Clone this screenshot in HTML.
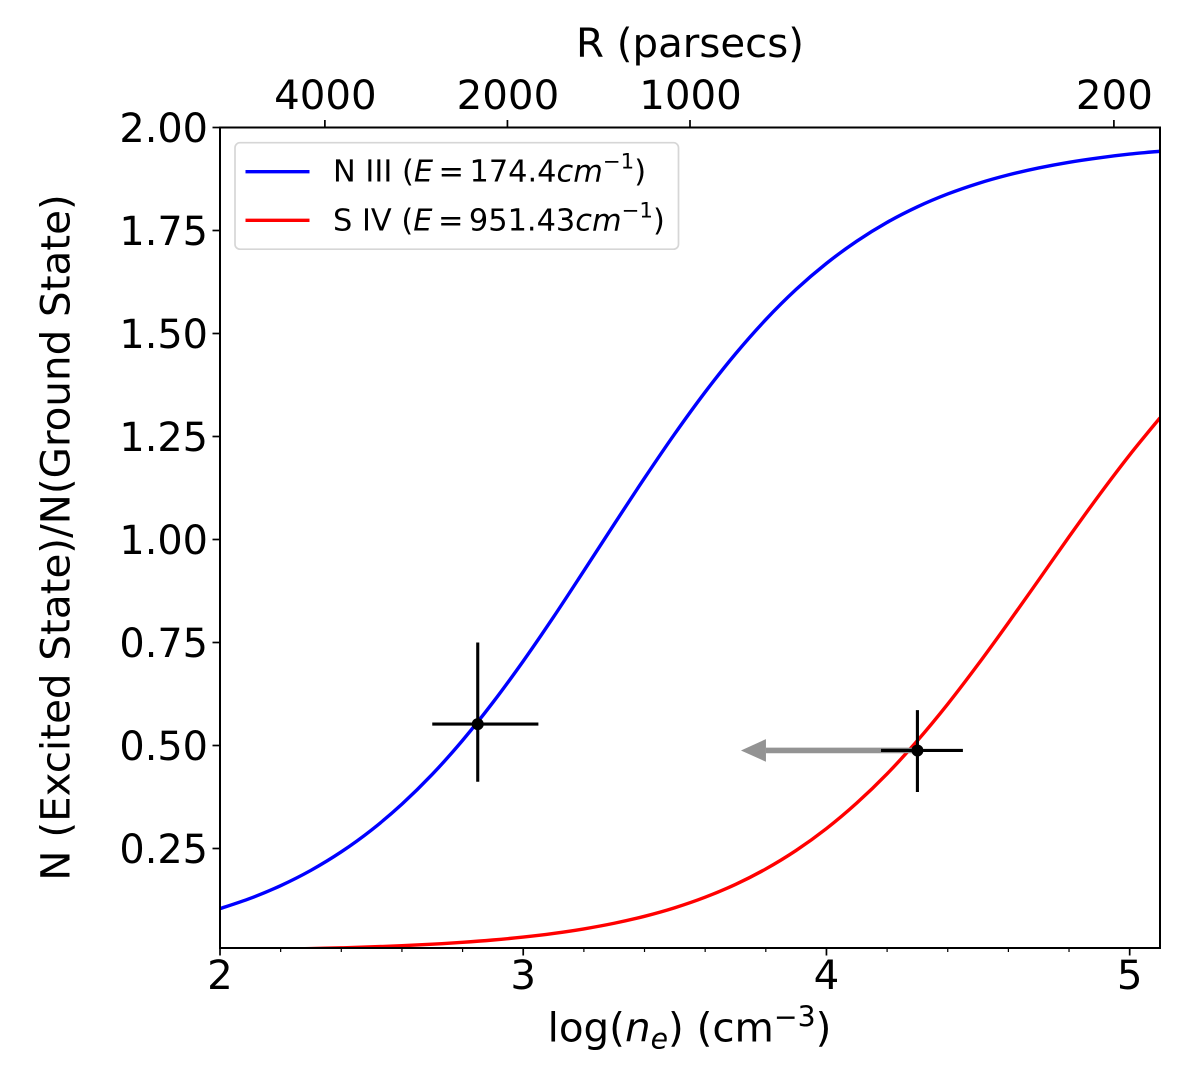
<!DOCTYPE html>
<html lang="en">
<head>
<meta charset="utf-8">
<title>Excited to ground state ratio</title>
<style>
html,body{margin:0;padding:0;background:#fff;}
svg{display:block;}
text{font-family:"DejaVu Sans","Liberation Sans",sans-serif;fill:#000;}
.i{font-style:italic;}
</style>
</head>
<body>
<svg id="chart" xmlns="http://www.w3.org/2000/svg" width="1200" height="1065" viewBox="0 0 1200 1065">
  <defs>
    <clipPath id="plot-clip"><rect x="220" y="127.5" width="940" height="820.5"/></clipPath>
  </defs>
  <rect x="220" y="127.5" width="940" height="820.5" fill="#fff"/>
  <g id="marks"></g>
  <g id="spines">
    <rect x="220" y="127.5" width="940" height="820.5" fill="none" stroke="#000" stroke-width="2"/>
  </g>
  <g id="ticks"></g>

  <text x="690" y="57" text-anchor="middle" font-size="40.3">R (parsecs)</text>
  <text x="689.5" y="1041.5" text-anchor="middle" font-size="40.4">log(<tspan class="i">n</tspan><tspan class="i" font-size="28.3" dy="7">e</tspan><tspan dy="-7">)</tspan> (cm<tspan font-size="28.3" dy="-15">−3</tspan><tspan dy="15">)</tspan></text>
  <text transform="translate(69.5,537.5) rotate(-90)" text-anchor="middle" font-size="40.4">N (Excited State)/N(Ground State)</text>

  <g>
    <rect x="235" y="142.7" width="443.5" height="106.5" rx="5" ry="5" fill="#fff" fill-opacity="0.8" stroke="#d6d6d6" stroke-width="1.7"/>
    <line x1="245.5" x2="309.5" y1="171.7" y2="171.7" stroke="#0000ff" stroke-width="3.3"/>
    <line x1="245.5" x2="309.5" y1="220.3" y2="220.3" stroke="#ff0000" stroke-width="3.3"/>
    <text x="333" y="181.5" font-size="30.4">N III (<tspan class="i">E</tspan><tspan dx="5.5">=</tspan><tspan dx="5.5">174.4</tspan><tspan class="i">cm</tspan><tspan font-size="21.3" dy="-13">−1</tspan><tspan dy="13">)</tspan></text>
    <text x="333" y="230.5" font-size="30.4">S IV (<tspan class="i">E</tspan><tspan dx="5.5">=</tspan><tspan dx="5.5">951.43</tspan><tspan class="i">cm</tspan><tspan font-size="21.3" dy="-13">−1</tspan><tspan dy="13">)</tspan></text>
  </g>
</svg>
<script>
// ---- chart data ----
const logDensity = [2.0,2.1,2.2,2.3,2.4,2.5,2.6,2.7,2.8,2.9,3.0,3.1,3.2,3.3,3.4,3.5,3.6,3.7,3.8,3.9,4.0,4.1,4.2,4.3,4.4,4.5,4.6,4.7,4.8,4.9,5.0,5.1];
const nIIIRatio = [0.1040,0.1291,0.1598,0.1971,0.2419,0.2951,0.3577,0.4300,0.5125,0.6045,0.7049,0.8120,0.9240,1.0372,1.1490,1.2568,1.3579,1.4506,1.5338,1.6070,1.6702,1.7241,1.7697,1.8075,1.8387,1.8642,1.8850,1.9019,1.9156,1.9265,1.9354,1.9424];
const sIVRatio = [0.00356,0.00448,0.00564,0.00709,0.00893,0.01121,0.01409,0.01770,0.02224,0.02791,0.0350,0.04386,0.05485,0.06852,0.08544,0.10625,0.1318,0.1628,0.2004,0.2453,0.2984,0.3604,0.4313,0.5118,0.6006,0.6968,0.7979,0.9019,1.0066,1.1084,1.2053,1.2954];
const pointNames = ['n-iii','s-iv'];
const pointX = [2.85,4.30];
const pointY = [0.552,0.488];
const pointXLow = [2.70,4.18];
const pointXHigh = [3.05,4.45];
const pointYLow = [0.412,0.387];
const pointYHigh = [0.750,0.586];
const limitArrowFrom = [4.30,0.488];
const limitArrowTo = [3.72,0.488];
const xTickValues = [2,3,4,5];
const xMinorValues = [2.2,2.4,2.6,2.8,3.2,3.4,3.6,3.8,4.2,4.4,4.6,4.8,5.0];
const yTickValues = [0.25,0.50,0.75,1.00,1.25,1.50,1.75,2.00];
const topTickValues = [4000,2000,1000,200];

// ---- axis functions ----
const X_MIN = 2, X_MAX = 5.1, Y_MIN = 0.0085, Y_MAX = 2;
const PX_L = 220, PX_R = 1160, PX_T = 127.5, PX_B = 948;
function sx(v){ return PX_L + (v - X_MIN) / (X_MAX - X_MIN) * (PX_R - PX_L); }
function sy(v){ return PX_B - (v - Y_MIN) / (Y_MAX - Y_MIN) * (PX_B - PX_T); }
function radiusToLogDensity(r){ return 9.55 - 2 * Math.log10(r); }

const NS = 'http://www.w3.org/2000/svg';
const marks = document.getElementById('marks');
const ticks = document.getElementById('ticks');
function make(tag, parent){
  const el = document.createElementNS(NS, tag);
  parent.appendChild(el);
  return el;
}
function drawSeg(el, x1, y1, x2, y2, color, width){
  el.setAttribute('x1', x1);
  el.setAttribute('y1', y1);
  el.setAttribute('x2', x2);
  el.setAttribute('y2', y2);
  el.setAttribute('stroke', color);
  el.setAttribute('stroke-width', width);
}
function smoothPath(xs, ys){
  const p = xs.map((x, i) => [sx(x), sy(ys[i])]);
  let d = 'M' + p[0][0].toFixed(2) + ' ' + p[0][1].toFixed(2);
  for (let i = 0; i < p.length - 1; i++) {
    const a = p[Math.max(i - 1, 0)], b = p[i], c = p[i + 1], e = p[Math.min(i + 2, p.length - 1)];
    const c1x = b[0] + (c[0] - a[0]) / 6, c1y = b[1] + (c[1] - a[1]) / 6;
    const c2x = c[0] - (e[0] - b[0]) / 6, c2y = c[1] - (e[1] - b[1]) / 6;
    d += 'C' + c1x.toFixed(2) + ' ' + c1y.toFixed(2) + ' ' + c2x.toFixed(2) + ' ' + c2y.toFixed(2) + ' ' + c[0].toFixed(2) + ' ' + c[1].toFixed(2);
  }
  return d;
}

// ---- curves ----
const clipGroup = make('g', marks);
clipGroup.setAttribute('clip-path', 'url(#plot-clip)');



const blue = make('path', clipGroup);


blue.setAttribute('d', smoothPath(logDensity, nIIIRatio));
blue.setAttribute('fill', 'none');
blue.setAttribute('stroke', '#0000ff');
blue.setAttribute('stroke-width', '3.4');

const red = make('path', clipGroup);


red.setAttribute('d', smoothPath(logDensity, sIVRatio));
red.setAttribute('fill', 'none');
red.setAttribute('stroke', '#ff0000');
red.setAttribute('stroke-width', '3.4');

// ---- upper-limit arrow ----
const arrowY = sy(limitArrowFrom[1]);
const arrowTipX = sx(limitArrowTo[0]) - 0.6;
const arrowShaft = make('rect', marks);


arrowShaft.setAttribute('x', arrowTipX + 25);
arrowShaft.setAttribute('y', arrowY - 2.8);
arrowShaft.setAttribute('width', sx(limitArrowFrom[0]) - arrowTipX - 25);
arrowShaft.setAttribute('height', 5.6);
arrowShaft.setAttribute('fill', '#939393');
const arrowHead = make('polygon', marks);


arrowHead.setAttribute('points', arrowTipX + ',' + arrowY + ' ' + (arrowTipX + 25) + ',' + (arrowY - 11.3) + ' ' + (arrowTipX + 25) + ',' + (arrowY + 11.3));
arrowHead.setAttribute('fill', '#939393');

// ---- measured points with error bars ----
pointX.forEach(function(px, i){
  const g = make('g', marks);
  
  
  const h = make('line', g);
  
  
  drawSeg(h, sx(pointXLow[i]), sy(pointY[i]), sx(pointXHigh[i]), sy(pointY[i]), '#000', 3.1);
  const v = make('line', g);
  
  
  drawSeg(v, sx(px), sy(pointYLow[i]), sx(px), sy(pointYHigh[i]), '#000', 3.1);
  const c = make('circle', g);
  
  
  c.setAttribute('cx', sx(px));
  c.setAttribute('cy', sy(pointY[i]));
  c.setAttribute('r', 6);
  c.setAttribute('fill', '#000');
});

// ---- ticks and tick labels ----
const TICK_FONT = 40.3;
xTickValues.forEach(function(v){
  const t = make('line', ticks);
  
  
  drawSeg(t, sx(v), PX_B, sx(v), PX_B + 7.5, '#000', 1.7);
  const l = make('text', ticks);
  
  
  l.setAttribute('x', sx(v));
  l.setAttribute('y', 989);
  l.setAttribute('text-anchor', 'middle');
  l.setAttribute('font-size', TICK_FONT);
  l.textContent = String(v);
});
xMinorValues.forEach(function(v){
  const t = make('line', ticks);
  
  
  drawSeg(t, sx(v), PX_B, sx(v), PX_B + 4, '#000', 1.2);
});
yTickValues.forEach(function(v){
  const t = make('line', ticks);
  
  
  drawSeg(t, PX_L - 7.5, sy(v), PX_L, sy(v), '#000', 1.7);
  const l = make('text', ticks);
  
  
  l.setAttribute('x', 208);
  l.setAttribute('y', sy(v) + 14.7);
  l.setAttribute('text-anchor', 'end');
  l.setAttribute('font-size', 39.8);
  l.textContent = v.toFixed(2);
});
topTickValues.forEach(function(v){
  const x = sx(radiusToLogDensity(v));
  const t = make('line', ticks);
  
  
  drawSeg(t, x, PX_T - 7.5, x, PX_T, '#000', 1.7);
  const l = make('text', ticks);
  
  
  l.setAttribute('x', x + 0.5);
  l.setAttribute('y', 109);
  l.setAttribute('text-anchor', 'middle');
  l.setAttribute('font-size', TICK_FONT);
  l.textContent = String(v);
});
</script>
</body>
</html>
